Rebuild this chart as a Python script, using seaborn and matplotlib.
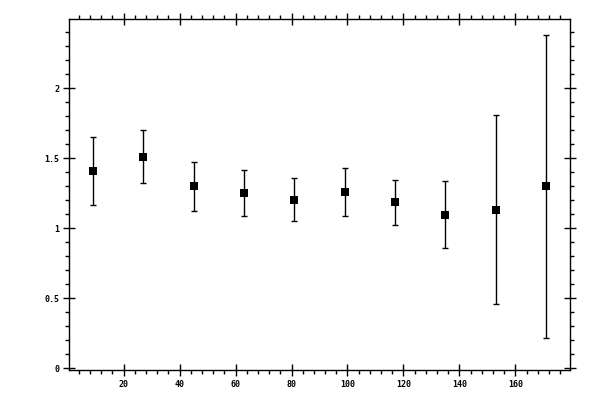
import numpy as np
import pandas as pd
import matplotlib
matplotlib.use("Agg")
import matplotlib.pyplot as plt
from matplotlib.ticker import MultipleLocator
import seaborn as sns

# values
x_vals = [9, 27, 45, 63, 81, 99, 117, 135, 153, 171]
y_vals = [1.407, 1.507, 1.300, 1.250, 1.200, 1.257, 1.186, 1.093, 1.131, 1.300]
y_upper = [1.650, 1.700, 1.471, 1.414, 1.357, 1.429, 1.343, 1.336, 1.807, 2.381]
y_lower = [1.164, 1.321, 1.121, 1.086, 1.050, 1.086, 1.021, 0.857, 0.459, 0.214]

df = pd.DataFrame({"x": x_vals, "y": y_vals, "hi": y_upper, "lo": y_lower})

sns.set_style("white")
plt.rcParams["font.family"] = ["DejaVu Sans Mono"]

fig = plt.figure(figsize=(6, 4), dpi=100)
ax = fig.add_axes([69 / 600, 30 / 400, 501 / 600, 351 / 400])

err = [df["y"] - df["lo"], df["hi"] - df["y"]]
ax.errorbar(df["x"], df["y"], yerr=err, fmt="none", ecolor="black",
            elinewidth=1.0, capsize=2.0, capthick=1.0, zorder=2)
sns.scatterplot(data=df, x="x", y="y", marker="s", s=26, color="black",
                edgecolor="black", linewidth=0, ax=ax, zorder=3)

ax.set_xlim(0.5, 179.5)
ax.set_ylim(-0.012, 2.495)
ax.xaxis.set_major_locator(MultipleLocator(20))
ax.xaxis.set_minor_locator(MultipleLocator(4))
ax.yaxis.set_major_locator(MultipleLocator(0.5))
ax.yaxis.set_minor_locator(MultipleLocator(0.1))
ax.yaxis.set_major_formatter(plt.FuncFormatter(lambda v, p: f"{v:g}"))

ax.set_xlabel("")
ax.set_ylabel("")
for s in ax.spines.values():
    s.set_visible(True)
    s.set_color("black")
    s.set_linewidth(1.0)

ax.tick_params(which="both", top=True, right=True, bottom=True, left=True,
               color="black", width=1.0)
ax.tick_params(which="major", direction="inout", length=8, pad=3,
               labelsize=6, labelcolor="black")
ax.tick_params(which="minor", direction="out", length=3)
for lab in ax.get_xticklabels() + ax.get_yticklabels():
    lab.set_fontweight("bold")

fig.savefig("out.png", dpi=100, facecolor="white")
